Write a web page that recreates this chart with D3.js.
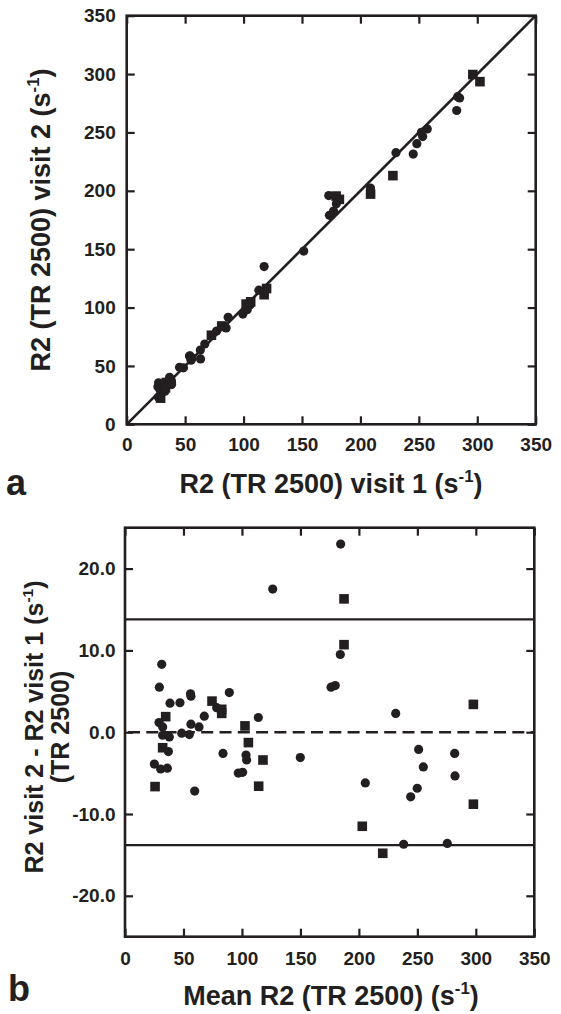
<!DOCTYPE html>
<html>
<head>
<meta charset="utf-8">
<script src="https://cdn.jsdelivr.net/npm/d3@7"></script>
<style>
  html, body { margin: 0; padding: 0; background: #fff; }
  svg { display: block; }
  text { font-family: "Liberation Sans", Arial, Helvetica, sans-serif; font-weight: bold; fill: #231f20; }
</style>
</head>
<body>
<svg id="chart" width="561" height="1014"></svg>
<script>
// ---------- Panel a: visit 1 vs visit 2 (s^-1) ----------
const scatterCircles = [ // [visit1, visit2]
  [172.9,195.9],[117.6,135.1],[179.4,188.9],[27.3,35.6],[26.7,32.2],[36.7,40.3],
  [45.2,48.8],[53.7,58.4],[54.2,58.6],[86.8,91.6],[76.9,79.9],[66.8,68.8],
  [55.9,56.9],[63.0,63.6],[48.6,48.4],[55.1,54.9],[28.5,29.7],[31.9,32.5],
  [32.4,32.0],[38.2,37.6],[38.3,35.9],[27.1,23.2],[32.8,28.3],[38.4,34.0],
  [63.2,56.0],[85.1,82.5],[113.1,114.9],[104.9,102.1],[105.7,102.3],[99.4,94.4],
  [103.1,98.2],[151.5,148.4],[173.5,179.0],[177.0,182.7],[230.4,232.7],[252.2,250.1],
  [283.2,280.6],[257.2,253.0],[284.9,279.5],[208.6,202.4],[253.3,246.5],[248.3,240.4],
  [245.2,231.5],[282.4,268.8]
];
const scatterSquares = [ // [visit1, visit2]
  [179.2,195.5],[182.0,192.7],[72.5,76.3],[81.3,84.1],[81.6,83.9],[33.9,35.8],
  [33.2,31.3],[29.0,22.4],[102.2,103.0],[106.1,104.9],[119.7,116.3],[117.6,111.0],
  [296.2,299.6],[302.3,293.5],[208.7,197.2],[227.8,213.0]
];
const identityLine = [[0,0],[350,350]];
const scatterTicks = [0,50,100,150,200,250,300,350];
const scatterTickLabels = ["0","50","100","150","200","250","300","350"];

// ---------- Panel b: Bland-Altman (mean, difference) ----------
const baCircles = [ // [mean, diff]
  [184.4,23.0],[126.3,17.5],[184.1,9.5],[31.4,8.3],[29.4,5.5],[38.5,3.55],
  [47.0,3.6],[56.0,4.7],[56.4,4.4],[89.2,4.85],[78.4,3.0],[67.8,1.96],
  [56.4,0.98],[63.3,0.65],[48.5,-0.12],[55.0,-0.29],[29.1,1.18],[32.2,0.65],
  [32.2,-0.37],[37.9,-0.58],[37.1,-2.37],[25.1,-3.9],[30.5,-4.5],[36.2,-4.4],
  [59.6,-7.2],[83.8,-2.6],[114.0,1.8],[103.5,-2.8],[104.0,-3.4],[96.9,-5.0],
  [100.6,-4.9],[149.9,-3.1],[176.2,5.5],[179.8,5.7],[231.5,2.3],[251.1,-2.1],
  [281.9,-2.6],[255.1,-4.25],[282.2,-5.35],[205.5,-6.2],[249.9,-6.85],[244.3,-7.9],
  [238.3,-13.7],[275.6,-13.6]
];
const baSquares = [ // [mean, diff]
  [187.3,16.3],[187.3,10.7],[74.4,3.8],[82.7,2.8],[82.7,2.3],[34.8,1.9],
  [32.2,-1.9],[25.7,-6.65],[102.6,0.77],[105.5,-1.27],[118.0,-3.4],[114.3,-6.6],
  [297.9,3.4],[297.9,-8.8],[202.9,-11.5],[220.4,-14.8]
];
const baMeanDiff = 0.0;
const baLimits = [13.8, -13.8];
const baXTicks = [0,50,100,150,200,250,300,350];
const baXTickLabels = ["0","50","100","150","200","250","300","350"];
const baYTicks = [-20,-10,0,10,20];
const baYTickLabels = ["-20.0","-10.0","0.0","10.0","20.0"];

const ink = "#231f20";
const svg = d3.select("#chart");

function addTitle(g, x, y, rotate, size, main) {
  const t = g.append("text")
    .attr("transform", `translate(${x},${y})` + (rotate ? " rotate(-90)" : ""))
    .attr("text-anchor", "middle")
    .style("font-size", size + "px");
  t.append("tspan").text(main + "(s");
  t.append("tspan").text("-1").style("font-size", (size * 0.62) + "px").attr("dy", -size * 0.42);
  t.append("tspan").text(")").attr("dy", size * 0.42);
  return t;
}

function frameAxes(g, x, y, xTicks, xLabels, yTicks, yLabels, padX, padY, fontSize) {
  const [x0, x1] = x.range();
  const [y0, y1] = y.range();
  const xl = d3.axisBottom(x).tickValues(xTicks).tickSizeInner(-8).tickSizeOuter(0)
    .tickPadding(padX).tickFormat((d, i) => xLabels[i]);
  const yl = d3.axisLeft(y).tickValues(yTicks).tickSizeInner(-8).tickSizeOuter(0)
    .tickPadding(padY).tickFormat((d, i) => yLabels[i]);
  const xt = d3.axisTop(x).tickValues(xTicks).tickSizeInner(-8).tickSizeOuter(0).tickFormat("");
  const yr = d3.axisRight(y).tickValues(yTicks).tickSizeInner(-8).tickSizeOuter(0).tickFormat("");
  const parts = [
    g.append("g").attr("transform", `translate(0,${y0})`).call(xl),
    g.append("g").attr("transform", `translate(${x0},0)`).call(yl),
    g.append("g").attr("transform", `translate(0,${y1})`).call(xt),
    g.append("g").attr("transform", `translate(${x1},0)`).call(yr)
  ];
  parts.forEach(p => {
    p.select(".domain").remove();
    p.selectAll(".tick line").attr("stroke", ink).attr("stroke-width", 2.2);
    p.selectAll(".tick text").attr("fill", ink)
      .style("font-family", '"Liberation Sans", Arial, sans-serif')
      .style("font-weight", "bold").style("font-size", fontSize + "px");
  });
  g.append("rect")
    .attr("x", x0).attr("y", y1).attr("width", x1 - x0).attr("height", y0 - y1)
    .attr("fill", "none").attr("stroke", ink).attr("stroke-width", 2.6);
}

function drawMarks(g, x, y, circles, squares) {
  g.append("g").selectAll("circle").data(circles).join("circle")
    .attr("cx", d => x(d[0])).attr("cy", d => y(d[1])).attr("r", 4.6).attr("fill", ink);
  const s = 9.6;
  g.append("g").selectAll("rect").data(squares).join("rect")
    .attr("x", d => x(d[0]) - s / 2).attr("y", d => y(d[1]) - s / 2)
    .attr("width", s).attr("height", s).attr("fill", ink);
}

// ---------- Panel a ----------
const xa = d3.scaleLinear().domain([0, 350]).range([126.7, 535.7]);
const ya = d3.scaleLinear().domain([0, 350]).range([424.3, 15.7]);
const ga = svg.append("g");
ga.append("path").datum(identityLine)
  .attr("d", d3.line().x(d => xa(d[0])).y(d => ya(d[1])))
  .attr("stroke", ink).attr("stroke-width", 2.6).attr("fill", "none");
drawMarks(ga, xa, ya, scatterCircles, scatterSquares);
frameAxes(ga, xa, ya, scatterTicks, scatterTickLabels, scatterTicks, scatterTickLabels, 13.5, 11, 19);
addTitle(ga, 331, 493, false, 27, "R2 (TR 2500) visit 1 ");
addTitle(ga, 50, 220, true, 27, "R2 (TR 2500) visit 2 ");
ga.append("text").attr("x", 6).attr("y", 495).style("font-size", "36px").text("a");

// ---------- Panel b ----------
const xb = d3.scaleLinear().domain([0, 350]).range([125, 534.3]);
const yb = d3.scaleLinear().domain([-25, 25]).range([936.7, 527.7]);
const gb = svg.append("g");
gb.append("g").selectAll("line").data(baLimits).join("line")
  .attr("x1", xb(0)).attr("x2", xb(350))
  .attr("y1", d => yb(d)).attr("y2", d => yb(d))
  .attr("stroke", ink).attr("stroke-width", 2.2);
gb.append("line")
  .attr("x1", xb(0) + 3).attr("x2", xb(350))
  .attr("y1", yb(baMeanDiff)).attr("y2", yb(baMeanDiff))
  .attr("stroke", ink).attr("stroke-width", 2.6).attr("stroke-dasharray", "12,6.3");
drawMarks(gb, xb, yb, baCircles, baSquares);
frameAxes(gb, xb, yb, baXTicks, baXTickLabels, baYTicks, baYTickLabels, 14.5, 9.5, 19);
addTitle(gb, 331, 1005, false, 27, "Mean R2 (TR 2500) ");
addTitle(gb, 43, 727, true, 25, "R2 visit 2 - R2 visit 1 ");
gb.append("text")
  .attr("transform", `translate(69,727) rotate(-90)`)
  .attr("text-anchor", "middle").style("font-size", "25px").text("(TR 2500)");
gb.append("text").attr("x", 8).attr("y", 1001).style("font-size", "36px").text("b");
</script>
</body>
</html>
